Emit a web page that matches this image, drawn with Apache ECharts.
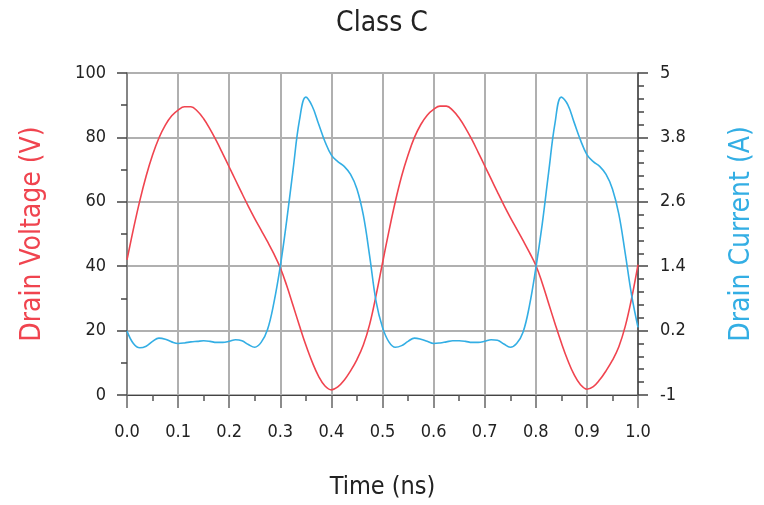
<!DOCTYPE html>
<html>
<head>
<meta charset="utf-8">
<script src="https://cdn.jsdelivr.net/npm/echarts@6/dist/echarts.min.js"></script>
<style>html,body{margin:0;padding:0;background:#fff;overflow:hidden}#c{position:absolute;left:0;top:0;width:764px;height:505px}</style>
</head>
<body>
<div id="c"></div>
<script>
var titleText = 'Class C';
var xName = 'Time (ns)';
var yLeftName = 'Drain Voltage (V)';
var yRightName = 'Drain Current (A)';

var timeNs = [0,0.0125,0.025,0.0375,0.05,0.0625,0.075,0.0875,0.1,0.1125,0.125,0.1375,0.15,0.1625,0.175,0.1875,0.2,0.2125,0.225,0.2375,0.25,0.2625,0.275,0.2875,0.3,0.3125,0.325,0.3375,0.35,0.3625,0.375,0.3875,0.4,0.4125,0.425,0.4375,0.45,0.4625,0.475,0.4875,0.5,
0.5125,0.525,0.5375,0.55,0.5625,0.575,0.5875,0.6,0.6125,0.625,0.6375,0.65,0.6625,0.675,0.6875,0.7,0.7125,0.725,0.7375,0.75,0.7625,0.775,0.7875,0.8,0.8125,0.825,0.8375,0.85,0.8625,0.875,0.8875,0.9,0.9125,0.925,0.9375,0.95,0.9625,0.975,0.9875,1.0];

var drainVoltage = [42,51.5,60.3,68,74.5,79.8,83.8,86.7,88.5,89.5,89.5,88.2,85.8,82.6,78.9,74.9,70.8,66.7,62.6,58.6,54.8,51.2,47.6,43.8,39.5,34,27.8,21.5,15.5,10.2,5.8,2.8,1.6,2.5,4.6,7.5,11,15.5,22,31,41,
50.8,60,68,74.5,80,84,86.9,88.7,89.7,89.7,88.4,86,82.9,79.3,75.3,71.2,67.1,63,59,55.2,51.6,48,44.3,40.3,34.8,28.5,22.2,16.2,10.8,6.3,3.2,1.8,2.6,4.7,7.5,10.8,15,21.3,30,40.5];

var drainCurrent = [0.19,-0.04,-0.12,-0.09,0.00,0.06,0.04,-0.01,-0.04,-0.03,-0.01,0.00,0.01,0.00,-0.02,-0.02,0.00,0.03,0.01,-0.06,-0.11,-0.02,0.22,0.72,1.40,2.25,3.20,4.12,4.55,4.38,4.05,3.72,3.47,3.35,3.26,3.11,2.84,2.35,1.58,0.74,0.26,
-0.01,-0.11,-0.08,0.00,0.06,0.04,0.00,-0.04,-0.03,-0.01,0.01,0.01,0.00,-0.02,-0.02,0.00,0.03,0.02,-0.05,-0.11,-0.04,0.17,0.66,1.36,2.18,3.14,4.06,4.55,4.41,4.08,3.75,3.48,3.35,3.26,3.11,2.84,2.37,1.64,0.86,0.26];

var red = '#f0444f';
var blue = '#33aee4';
var font = '"DejaVu Sans Condensed","Liberation Sans",sans-serif';

function pairs(xs, ys){ return xs.map(function(x,i){ return [x, ys[i]]; }); }

var chart = echarts.init(document.getElementById('c'));
chart.setOption({
  animation: false,
  title: { text: titleText, left: 'center', top: 5,
    textStyle: { fontFamily: font, fontSize: 28, fontWeight: 'normal', color: '#222' } },
  grid: { left: 127, right: 119, top: 73, bottom: 104, show: true, borderColor: '#444', borderWidth: 1, backgroundColor: 'transparent' },
  xAxis: {
    type: 'value', min: 0, max: 1, interval: 0.1,
    name: xName, nameLocation: 'middle', nameGap: 80,
    nameTextStyle: { fontFamily: font, fontSize: 25, color: '#222' },
    axisLine: { lineStyle: { color: '#444', width: 1 } },
    axisTick: { show: true, length: 13, lineStyle: { color: '#666', width: 1.5 } },
    minorTick: { show: true, splitNumber: 2, length: 6, lineStyle: { color: '#555', width: 1.5 } },
    splitLine: { show: true, lineStyle: { color: '#b0b0b0', width: 2 } },
    axisLabel: { fontFamily: font, fontSize: 18, color: '#222', margin: 28,
      formatter: function(v){ return v.toFixed(1); } }
  },
  yAxis: [{
    type: 'value', min: 0, max: 100, interval: 20, position: 'left',
    name: yLeftName, nameLocation: 'middle', nameGap: 80, nameRotate: 90,
    nameTextStyle: { fontFamily: font, fontSize: 28, color: red },
    axisLine: { show: true, lineStyle: { color: '#777', width: 1.5 } },
    axisTick: { show: true, length: 10, lineStyle: { color: '#444', width: 1.5 } },
    minorTick: { show: true, splitNumber: 2, length: 6, lineStyle: { color: '#444', width: 1.5 } },
    splitLine: { show: true, lineStyle: { color: '#b0b0b0', width: 2 } },
    axisLabel: { fontFamily: font, fontSize: 18, color: '#222', margin: 21 }
  }, {
    type: 'value', min: -1, max: 5, interval: 1.2, position: 'right',
    name: yRightName, nameLocation: 'middle', nameGap: 90, nameRotate: 90,
    nameTextStyle: { fontFamily: font, fontSize: 28, color: blue },
    axisLine: { show: true, lineStyle: { color: '#444', width: 1.5 } },
    axisTick: { show: true, length: 10, lineStyle: { color: '#444', width: 1.5 } },
    minorTick: { show: true, splitNumber: 5, length: 6, lineStyle: { color: '#444', width: 1.5 } },
    splitLine: { show: false },
    axisLabel: { fontFamily: font, fontSize: 18, color: '#222', margin: 22,
      formatter: function(v){ return String(Math.round(v*10)/10); } }
  }],
  series: [{
    type: 'line', yAxisIndex: 0, data: pairs(timeNs, drainVoltage), smooth: 0.4,
    showSymbol: false, lineStyle: { color: red, width: 1.6 }, z: 3
  }, {
    type: 'line', yAxisIndex: 1, data: pairs(timeNs, drainCurrent), smooth: 0.4,
    showSymbol: false, lineStyle: { color: blue, width: 1.6 }, z: 4
  }]
});
</script>
</body>
</html>
